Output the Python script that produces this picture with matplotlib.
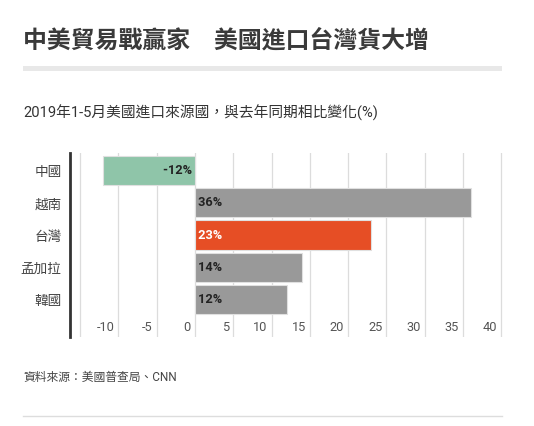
import matplotlib.pyplot as plt
import matplotlib.transforms as mtransforms

plt.rcParams['font.family'] = ['Roboto', 'Noto Sans CJK TC', 'DejaVu Sans']

countries = ['中國', '越南', '台灣', '孟加拉', '韓國']
changes = [-12, 36, 23, 14, 12]
bar_labels = ['-12%', '36%', '23%', '14%', '12%']
bar_colors = ['#8fc5a9', '#999999', '#e64e25', '#999999', '#999999']
label_colors = ['#222222', '#222222', '#ffffff', '#222222', '#222222']
grid_ticks = [-15, -10, -5, 0, 5, 10, 15, 20, 25, 30, 35, 40]
tick_labels = ['-10', '-5', '0', '5', '10', '15', '20', '25', '30', '35', '40']

W, H = 534, 426
fig = plt.figure(figsize=(W / 100, H / 100), dpi=100)

# title block
fig.text(23 / W, 1 - 41 / H, '中美貿易戰贏家　美國進口台灣貨大增', fontsize=17.2,
         fontweight='bold', color='#3a3a3a', va='center', ha='left')
fig.add_artist(plt.Rectangle((23 / W, 1 - 71 / H), 479 / W, 5 / H,
                             color='#e8e8e8', transform=fig.transFigure, lw=0))
fig.text(23 / W, 1 - 113 / H, '2019年1-5月美國進口來源國，與去年同期相比變化(%)',
         fontsize=10.6, color='#333333', va='center', ha='left')

# chart
ax = fig.add_axes([70 / W, 1 - 337 / H, 433 / W, 184 / H])
ypos = list(range(len(countries)))
ax.barh(ypos, changes, height=0.9, color=bar_colors, edgecolor='#e0e0e0',
        linewidth=0.8, zorder=3)

for y, v, lab, c in zip(ypos, changes, bar_labels, label_colors):
    if v < 0:
        ax.text(0, y, lab + ' ', ha='right', va='center', fontsize=9.2,
                fontweight='bold', color=c, zorder=4)
    else:
        ax.text(0, y, ' ' + lab, ha='left', va='center', fontsize=9.2,
                fontweight='bold', color=c, zorder=4)

ax.set_xlim(-16.33, 40.24)
ax.set_ylim(5.163, -0.543)
for g in grid_ticks:
    ax.axvline(g, color='#dcdcdc', lw=0.9, zorder=1)

offset = mtransforms.ScaledTranslation(-4 / 100, 0, fig.dpi_scale_trans)
blend = mtransforms.blended_transform_factory(ax.transData, ax.transAxes)
for lab in tick_labels:
    ax.text(float(lab), 0.05, lab, transform=blend + offset, ha='right',
            va='center', fontsize=9.2, color='#555555')

ax.set_xticks([])
ax.set_yticks(ypos)
ax.set_yticklabels(countries, fontsize=9.8, color='#444444')
ax.tick_params(axis='y', length=0, pad=6)
for s in ['top', 'right', 'bottom']:
    ax.spines[s].set_visible(False)
ax.spines['left'].set_color('#333333')
ax.spines['left'].set_linewidth(2)
ax.set_facecolor('none')

fig.text(23 / W, 1 - 377 / H, '資料來源：美國普查局、CNN', fontsize=8.5,
         color='#444444', va='center', ha='left')
fig.add_artist(plt.Line2D([23 / W, 502 / W], [1 - 416 / H, 1 - 416 / H],
                          color='#dddddd', lw=1, transform=fig.transFigure))

fig.savefig('out.png', dpi=100)
